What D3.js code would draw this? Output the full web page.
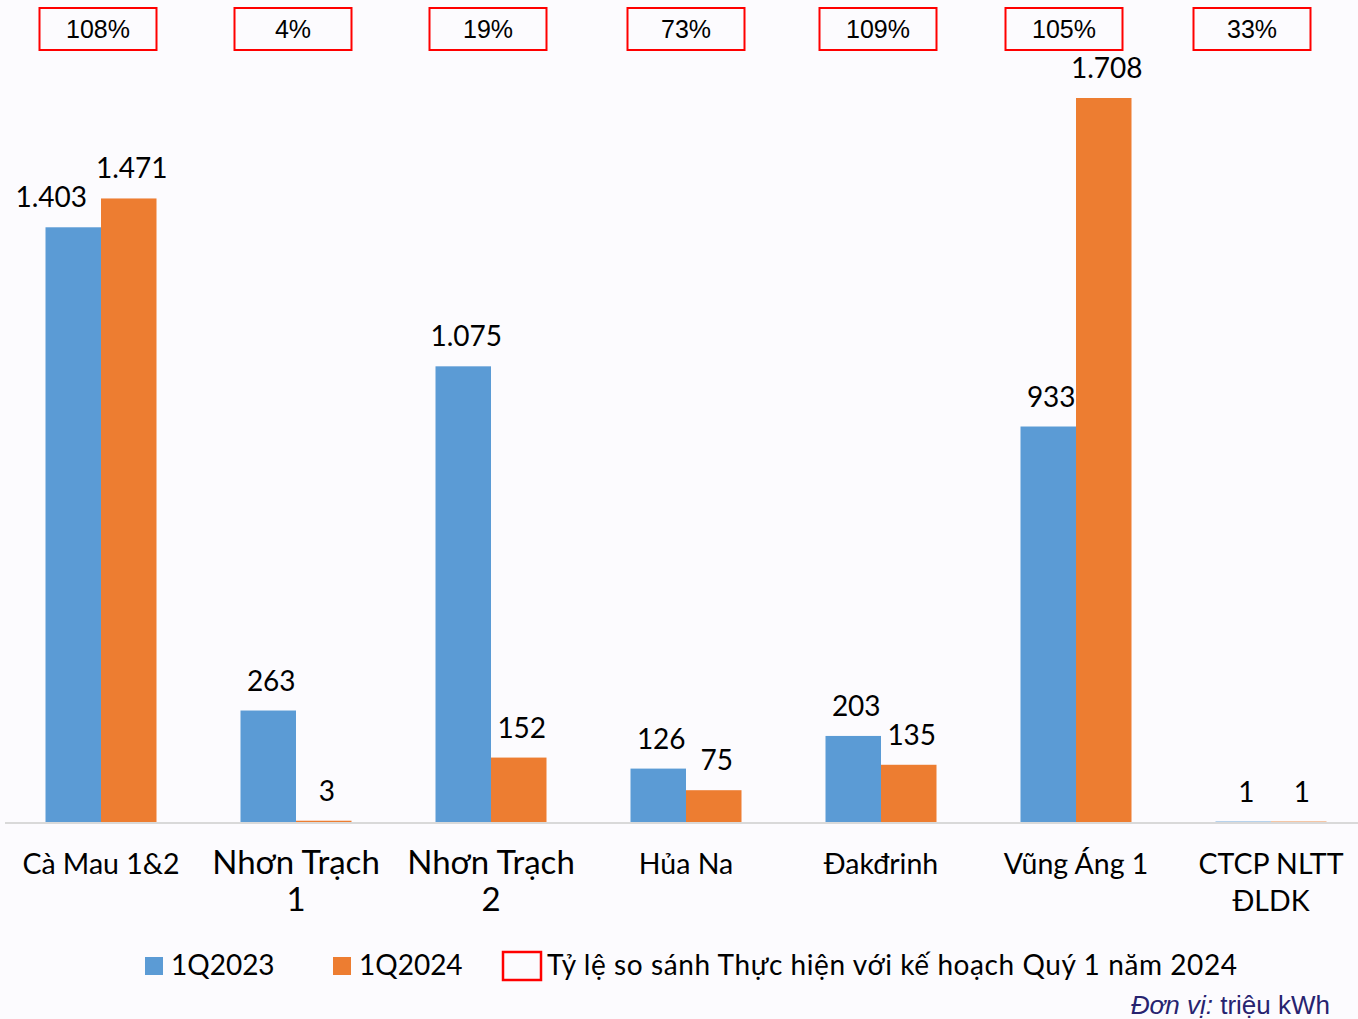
<!DOCTYPE html>
<html>
<head>
<meta charset="utf-8">
<script src="https://cdn.jsdelivr.net/npm/d3@7"></script>
<style>
  body { margin: 0; background: #fcfbfe; }
  svg { display: block; }
</style>
</head>
<body>
<svg id="chart"></svg>
<script>
// dữ liệu sản lượng điện, triệu kWh
const plants = ["Cà Mau 1&2", "Nhơn Trạch 1", "Nhơn Trạch 2", "Hủa Na", "Đakđrinh", "Vũng Áng 1", "CTCP NLTT ĐLDK"]
const labelLines = [["Cà Mau 1&2"], ["Nhơn Trạch", "1"], ["Nhơn Trạch", "2"], ["Hủa Na"], ["Đakđrinh"], ["Vũng Áng 1"], ["CTCP NLTT", "ĐLDK"]]
const q2023 = [1403, 263, 1075, 126, 203, 933, 1]
const q2024 = [1471, 3, 152, 75, 135, 1708, 1]
const planRatio = ["108%", "4%", "19%", "73%", "109%", "105%", "33%"]
const seriesNames = ["1Q2023", "1Q2024"]
const ratioLegend = "Tỷ lệ so sánh Thực hiện với kế hoạch Quý 1 năm 2024"

const width = 1358
const height = 1019
const baseY = 822
const font = "Lato, 'Noto Sans', sans-serif"
const colors = ["#5b9bd5", "#ed7d31"]
// các ô % được đặt tay, hơi lệch so với tâm nhóm cột
const boxShift = [-3, -3, -3, 0, -3, -12, -19]

function fmt(n) {
  return n.toString().replace(/(\d)(?=(\d{3})+(?!\d))/g, '$1.')
}

const svg = d3.select('svg#chart')
  .attr("width", width)
  .attr("height", height)

const x = d3.scaleBand()
  .domain(plants)
  .range([3.5, 3.5 + 195 * 7])
  .paddingInner(84 / 195)
  .paddingOuter(42 / 195)

const xs = d3.scaleBand()
  .domain(seriesNames)
  .range([0, x.bandwidth()])

const y = d3.scaleLinear()
  .domain([0, d3.max(q2024)])
  .range([baseY, 98])

const rows = plants.map((p, i) => ({ plant: p, values: [q2023[i], q2024[i]] }))

// baseline
svg.append("line")
  .attr("x1", 5).attr("x2", width)
  .attr("y1", baseY + 1).attr("y2", baseY + 1)
  .attr("stroke", "#d9d9d9")
  .attr("stroke-width", 2)

const groups = svg.append("g")
  .selectAll("g")
  .data(rows)
  .join("g")
  .attr("transform", d => `translate(${x(d.plant)},0)`)

groups.selectAll("rect")
  .data(d => d.values.map((v, k) => ({ v, k })))
  .join("rect")
  .attr("x", d => xs(seriesNames[d.k]))
  .attr("width", xs.bandwidth())
  .attr("y", d => y(d.v))
  .attr("height", d => baseY - y(d.v))
  .attr("fill", d => colors[d.k])

groups.selectAll("text.val")
  .data((d, i) => d.values.map((v, k) => ({ v, k, i })))
  .join("text")
  .attr("class", "val")
  .attr("x", d => xs(seriesNames[d.k]) + xs.bandwidth() / 2 + (d.i === 0 && d.k === 0 ? -22 : 3))
  .attr("y", d => y(d.v) - 20)
  .attr("text-anchor", "middle")
  .attr("font-family", font)
  .attr("font-size", 28)
  .attr("fill", "#000")
  .text(d => fmt(d.v))

// category labels
const cat = svg.append("g")
  .selectAll("text")
  .data(plants)
  .join("text")
  .attr("x", d => x(d) + x.bandwidth() / 2)
  .attr("y", 874)
  .attr("text-anchor", "middle")
  .attr("font-family", font)
  .attr("font-size", (d, i) => labelLines[i][0] === "Nhơn Trạch" ? 33 : 28.5)
  .attr("fill", "#000")

cat.selectAll("tspan")
  .data((d, i) => labelLines[i])
  .join("tspan")
  .attr("x", function () { return d3.select(this.parentNode).attr("x") })
  .attr("dy", (d, j) => j === 0 ? 0 : 37)
  .text(d => d)

// plan ratio boxes
const boxes = svg.append("g")
  .selectAll("g")
  .data(plants)
  .join("g")
  .attr("transform", (d, i) => `translate(${x(d) + x.bandwidth() / 2 + boxShift[i]},0)`)

boxes.append("rect")
  .attr("x", -58.5).attr("y", 8)
  .attr("width", 117).attr("height", 42)
  .attr("fill", "none")
  .attr("stroke", "#ff0000")
  .attr("stroke-width", 2)

boxes.append("text")
  .attr("y", 38)
  .attr("text-anchor", "middle")
  .attr("font-family", "'Liberation Sans', Arial, sans-serif")
  .attr("font-size", 25)
  .attr("fill", "#000")
  .text((d, i) => planRatio[i])

// legend
const legend = svg.append("g")
const lx = [145, 333]
seriesNames.forEach((s, k) => {
  legend.append("rect")
    .attr("x", lx[k]).attr("y", 957)
    .attr("width", 18).attr("height", 18)
    .attr("fill", colors[k])
  legend.append("text")
    .attr("x", lx[k] + 26).attr("y", 975)
    .attr("font-family", font)
    .attr("font-size", 28)
    .text(s)
})
legend.append("rect")
  .attr("x", 503).attr("y", 952)
  .attr("width", 38).attr("height", 28)
  .attr("fill", "none")
  .attr("stroke", "#ff0000")
  .attr("stroke-width", 2.5)
legend.append("text")
  .attr("x", 547).attr("y", 975)
  .attr("font-family", font)
  .attr("font-size", 28)
  .attr("textLength", 690)
  .attr("lengthAdjust", "spacing")
  .text(ratioLegend)

// đơn vị
const unit = svg.append("text")
  .attr("x", 1330).attr("y", 1014)
  .attr("text-anchor", "end")
  .attr("font-family", "'Liberation Sans', Arial, sans-serif")
  .attr("font-size", 26)
  .attr("fill", "#272370")
unit.append("tspan").attr("font-style", "italic").text("Đơn vị:")
unit.append("tspan").text(" triệu kWh")
</script>
</body>
</html>
